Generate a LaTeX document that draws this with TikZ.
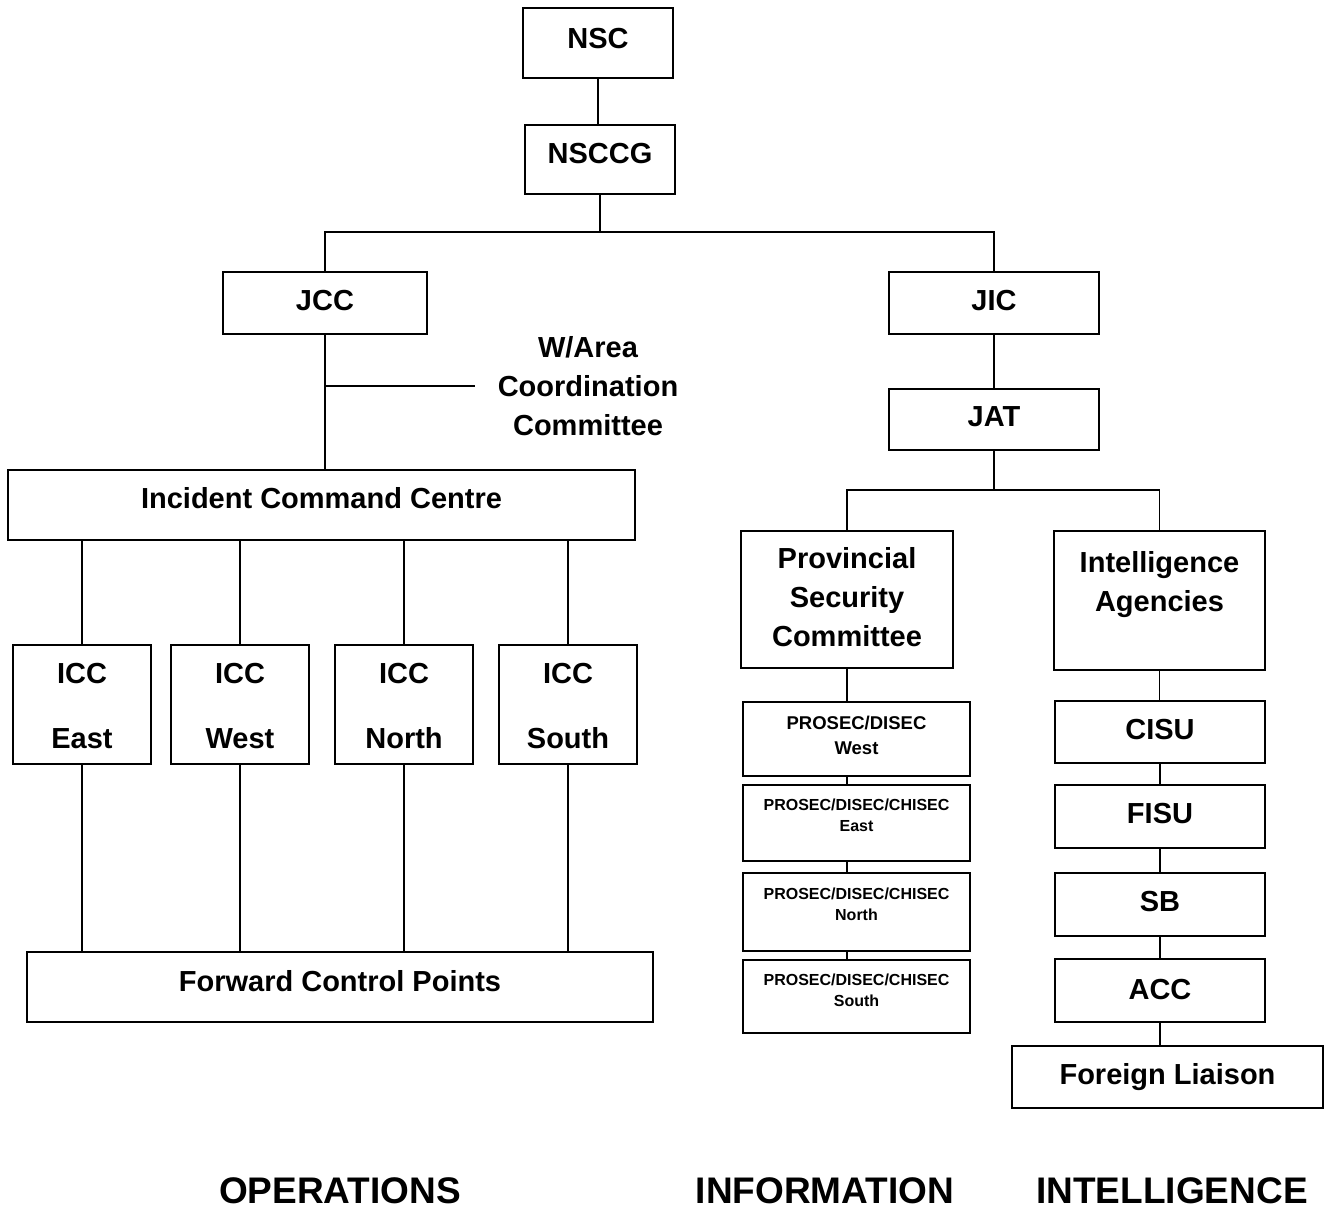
\documentclass[tikz,border=0pt]{standalone}
\usepackage{fontspec}
\setmainfont{Liberation Sans}
\newcommand{\lift}[2]{\raisebox{#1}[\height][\depth]{\begin{tabular}{@{}c@{}}#2\end{tabular}}}
\tikzset{
	fbody/.style={font=\bfseries\fontsize{14.5}{19.5}\selectfont},
	fwest/.style={font=\bfseries\fontsize{9.25}{12.5}\selectfont},
	fsmall/.style={font=\bfseries\fontsize{8}{10.5}\selectfont},
	ftitle/.style={font=\bfseries\fontsize{18.5}{22}\selectfont, inner sep=0pt},
	box/.style={draw, line width=1pt, inner sep=2pt, fbody},
	wh/.style 2 args={minimum width=#1*0.5pt, minimum height=#2*0.5pt},
	link/.style={line width=0.6pt}
}
\begin{document}
\begin{tikzpicture}[x=0.5pt, y=-0.5pt]
	\useasboundingbox (0,0) rectangle (1329,1209);

	% top of the chain
	\node[box, wh={150}{70}] (nsc) at (598,43) {\lift{1.3pt}{NSC}};
	\node[box, wh={150}{69}] (nsccg) at (600,159.5) {\lift{1.8pt}{NSCCG}};
	\node[box, wh={204}{62}] (jcc) at (325,303) {\lift{0pt}{JCC}};
	\node[box, wh={210}{62}] (jic) at (994,303) {\lift{0pt}{JIC}};
	\node[box, wh={210}{61}] (jat) at (994,419.5) {\lift{0.5pt}{JAT}};
	\coordinate (split) at (600,232);
	\coordinate (infosplit) at (994,490);

	% operations
	\node[fbody, inner xsep=11pt, inner ysep=0pt] (warea) at (588,386) {\lift{-1.3pt}{W/Area\\Coordination\\Committee}};
	\node[box, wh={627}{70}] (icc) at (321.5,505) {\lift{2.3pt}{Incident Command Centre}};
	\foreach \n/\x/\t in {icce/82/East, iccw/240/West, iccn/404/North, iccs/568/South}
		\node[box, wh={138}{119}] (\n) at (\x,704.5) {\lift{-1.7pt}{ICC\\[13pt]\t}};
	\node[box, wh={626}{70}] (fcp) at (340,987) {\lift{1.8pt}{Forward Control Points}};

	% information
	\node[box, wh={212}{137}] (psc) at (847,599.5) {\lift{0pt}{Provincial\\Security\\Committee}};
	\node[box, fwest, wh={227}{74}] (pw) at (856.5,739) {\lift{0.9pt}{PROSEC/DISEC\\West}};
	\node[box, fsmall, wh={227}{76}] (pe) at (856.5,823) {\lift{3pt}{PROSEC/DISEC/CHISEC\\East}};
	\node[box, fsmall, wh={227}{78}] (pn) at (856.5,912) {\lift{3pt}{PROSEC/DISEC/CHISEC\\North}};
	\node[box, fsmall, wh={227}{73}] (ps) at (856.5,996.5) {\lift{2.5pt}{PROSEC/DISEC/CHISEC\\South}};

	% intelligence
	\node[box, wh={211}{139}] (ia) at (1159.5,600.5) {\lift{8.3pt}{Intelligence\\Agencies}};
	\node[box, wh={210}{62}] (cisu) at (1160,732) {\lift{0pt}{CISU}};
	\node[box, wh={210}{63}] (fisu) at (1160,816.5) {\lift{0.3pt}{FISU}};
	\node[box, wh={210}{63}] (sb) at (1160,904.5) {\lift{0.3pt}{SB}};
	\node[box, wh={210}{63}] (acc) at (1160,990.5) {\lift{-0.7pt}{ACC}};
	\node[box, wh={311}{62}] (fl) at (1167.5,1077) {\lift{0pt}{Foreign Liaison}};

	% column titles
	\node[ftitle] (ops) at (340,1190.5) {OPERATIONS};
	\node[ftitle] (info) at (825,1190.5) {INFORMATION};
	\node[ftitle] (intel) at (1172,1190.5) {INTELLIGENCE};

	% connectors
	\draw[link] (nsc.south) -- (nsc.south |- nsccg.north);
	\draw[link] (nsccg.south) -- (split);
	\draw[link] (jcc.north) |- (split) -| (jic.north);
	\draw[link] (jcc.south) -- (jcc.south |- icc.north);
	\draw[link] (jcc.south |- warea.west) -- (warea.west);
	\foreach \n in {icce, iccw, iccn, iccs} {
		\draw[link] (\n.north) -- (\n.north |- icc.south);
		\draw[link] (\n.south) -- (\n.south |- fcp.north);
	}
	\draw[link] (jic.south) -- (jat.north);
	\draw[link] (jat.south) -- (infosplit);
	\draw[link] (psc.north) |- (infosplit) -| (ia.north);
	\draw[link] (psc.south) -- (psc.south |- pw.north);
	\foreach \a/\b in {pw/pe, pe/pn, pn/ps}
		\draw[link] (psc.south |- \a.south) -- (psc.south |- \b.north);
	\draw[link] (ia.south) -- (ia.south |- cisu.north);
	\foreach \a/\b in {cisu/fisu, fisu/sb, sb/acc}
		\draw[link] (\a.south) -- (\b.north);
	\draw[link] (acc.south) -- (acc.south |- fl.north);
\end{tikzpicture}
\end{document}
